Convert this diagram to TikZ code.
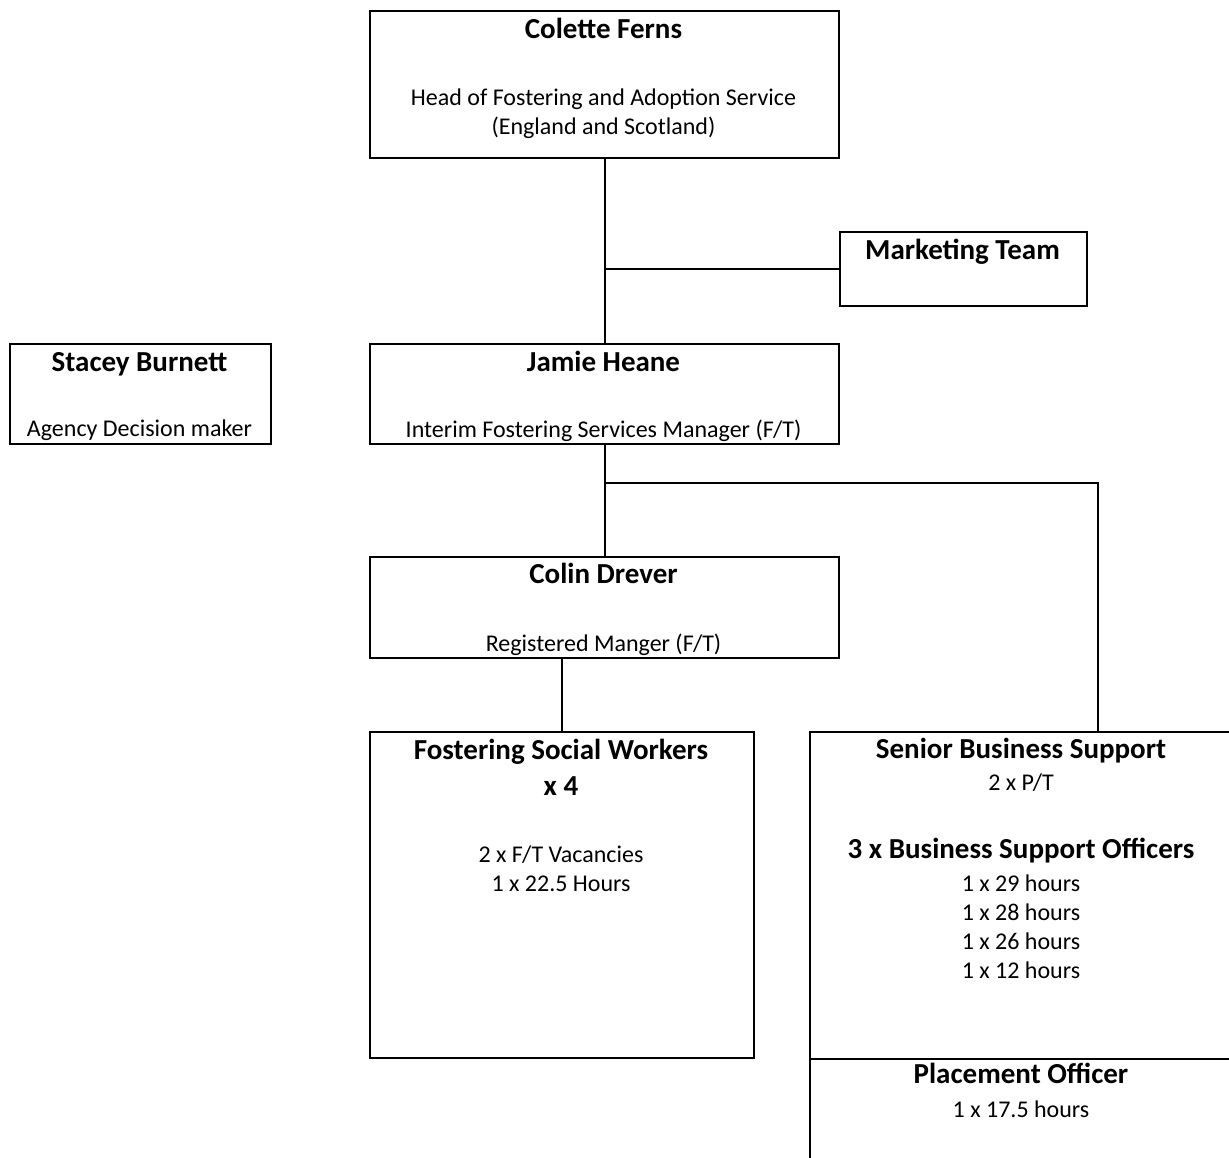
\documentclass[tikz,border=0pt]{standalone}
\usepackage{fontspec}
\setmainfont{Carlito}

\tikzset{
  box/.style 2 args={draw, line width=1pt, inner sep=0pt, anchor=north west,
    minimum width=#1*0.5pt, minimum height=#2*0.5pt},
  who/.style={font=\bfseries\fontsize{14.5}{18}\selectfont, anchor=base, align=center},
  job/.style={font=\fontsize{12}{14.5}\selectfont, anchor=base, align=center},
  link/.style={line width=1pt}
}

\begin{document}
\begin{tikzpicture}[x=0.5pt, y=-0.5pt]
\useasboundingbox (0,0) rectangle (1229,1157);
\clip (0,0) rectangle (1229,1157);

% boxes
\node[box={469}{147}] (cf) at (369,10) {};
\node[box={247}{74}] (mk) at (839,231) {};
\node[box={261}{100}] (sb) at (9,343) {};
\node[box={469}{100}] (jh) at (369,343) {};
\node[box={469}{101}] (cd) at (369,556) {};
\node[box={384}{326}] (fw) at (369,731) {};
\node[box={424}{327}] (bs) at (809,731) {};
\node[box={424}{150}] (po) at (809,1058) {};

% texts (base of a multi-line node is its last line)
\node[who] (cfname) at (603.5,38) {Colette Ferns};
\node[job] (cfjob) at (603.5,134) {Head of Fostering and Adoption Service\\(England and Scotland)};
\node[who] (mkname) at (962.5,259) {Marketing Team};
\node[who] (sbname) at (139.5,371) {Stacey Burnett};
\node[job] (sbjob) at (139.5,436) {Agency Decision maker};
\node[who] (jhname) at (603.5,371) {Jamie Heane};
\node[job] (jhjob) at (603.5,437) {Interim Fostering Services Manager (F/T)};
\node[who] (cdname) at (603.5,583) {Colin Drever};
\node[job] (cdjob) at (603.5,651) {Registered Manger (F/T)};
\node[who] (fwname) at (561,795) {Fostering Social Workers\\x 4};
\node[job] (fwjob) at (561,891) {2 x F/T Vacancies\\1 x 22.5 Hours};
\node[who] (bsname) at (1021,758) {Senior Business Support};
\node[job] (bsjob) at (1021,790) {2 x P/T};
\node[who] (boname) at (1021,858) {3 x Business Support Officers};
\node[job] (bojob) at (1021,978) {1 x 29 hours\\1 x 28 hours\\1 x 26 hours\\1 x 12 hours};
\node[who] (poname) at (1021,1083) {Placement Officer};
\node[job] (pojob) at (1021,1117) {1 x 17.5 hours};

% lines
\coordinate (bsjoin) at (1098,483);
\draw[link] (cf.south) -- (jh.north);
\draw[link] (mk.west) -- (mk.west -| cf.south);
\draw[link] (jh.south) -- (cd.north);
\draw[link] (bsjoin -| jh.south) -- (bsjoin) -- (bsjoin |- bs.north);
\draw[link] (fw.north) -- (fw.north |- cd.south);
\end{tikzpicture}
\end{document}
